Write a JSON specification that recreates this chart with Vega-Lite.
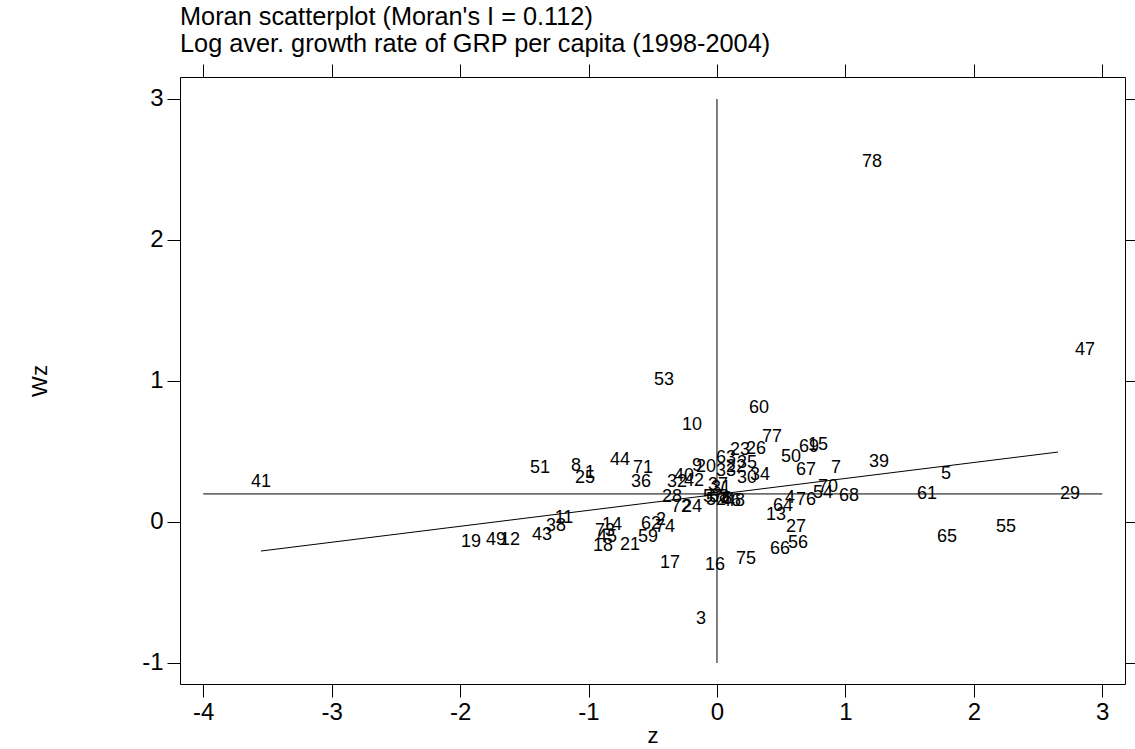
{
  "$schema": "https://vega.github.io/schema/vega-lite/v6.json",
  "width": 945,
  "height": 607,
  "autosize": "none",
  "padding": {"left": 180, "top": 77, "right": 10, "bottom": 65},
  "background": "white",
  "config": {
    "font": "Liberation Sans",
    "view": {"stroke": "black", "strokeWidth": 1},
    "axis": {
      "domain": false, "grid": false, "tickColor": "black", "tickSize": 13, "tickWidth": 1,
      "labelColor": "black", "titleColor": "black", "labelFont": "Liberation Sans", "titleFont": "Liberation Sans",
      "labelFontSize": 24, "titleFontSize": 22, "titleFontWeight": "normal"
    }
  },
  "title": {
    "text": ["Moran scatterplot (Moran's I = 0.112)", "Log aver. growth rate of GRP per capita (1998-2004)"],
    "anchor": "start", "frame": "group", "font": "Liberation Sans", "fontSize": 25.3, "fontWeight": "normal",
    "color": "black", "lineHeight": 27, "offset": 6
  },
  "datasets": {
    "pts": [
      {"lab": "78", "z": 1.207, "wz": 2.553}, {"lab": "47", "z": 2.865, "wz": 1.220}, {"lab": "41", "z": -3.551, "wz": 0.284},
      {"lab": "53", "z": -0.413, "wz": 1.007}, {"lab": "60", "z": 0.327, "wz": 0.809}, {"lab": "10", "z": -0.195, "wz": 0.688},
      {"lab": "77", "z": 0.428, "wz": 0.603}, {"lab": "15", "z": 0.786, "wz": 0.546}, {"lab": "69", "z": 0.716, "wz": 0.532},
      {"lab": "50", "z": 0.576, "wz": 0.461}, {"lab": "39", "z": 1.261, "wz": 0.426}, {"lab": "7", "z": 0.927, "wz": 0.383},
      {"lab": "67", "z": 0.693, "wz": 0.369}, {"lab": "5", "z": 1.783, "wz": 0.340}, {"lab": "61", "z": 1.635, "wz": 0.199},
      {"lab": "29", "z": 2.749, "wz": 0.199}, {"lab": "68", "z": 1.028, "wz": 0.184}, {"lab": "55", "z": 2.250, "wz": -0.035},
      {"lab": "65", "z": 1.791, "wz": -0.106}, {"lab": "13", "z": 0.459, "wz": 0.050}, {"lab": "27", "z": 0.615, "wz": -0.035},
      {"lab": "56", "z": 0.631, "wz": -0.149}, {"lab": "66", "z": 0.491, "wz": -0.191}, {"lab": "75", "z": 0.226, "wz": -0.262},
      {"lab": "16", "z": -0.016, "wz": -0.305}, {"lab": "17", "z": -0.366, "wz": -0.291}, {"lab": "3", "z": -0.125, "wz": -0.688},
      {"lab": "51", "z": -1.378, "wz": 0.383}, {"lab": "8", "z": -1.098, "wz": 0.397}, {"lab": "1", "z": -0.989, "wz": 0.348},
      {"lab": "25", "z": -1.028, "wz": 0.312}, {"lab": "44", "z": -0.755, "wz": 0.440}, {"lab": "71", "z": -0.576, "wz": 0.383},
      {"lab": "36", "z": -0.592, "wz": 0.284}, {"lab": "28", "z": -0.350, "wz": 0.177}, {"lab": "72", "z": -0.280, "wz": 0.106},
      {"lab": "24", "z": -0.195, "wz": 0.106}, {"lab": "19", "z": -1.915, "wz": -0.142}, {"lab": "49", "z": -1.721, "wz": -0.128},
      {"lab": "12", "z": -1.612, "wz": -0.128}, {"lab": "43", "z": -1.363, "wz": -0.092}, {"lab": "38", "z": -1.254, "wz": -0.028},
      {"lab": "11", "z": -1.191, "wz": 0.028}, {"lab": "14", "z": -0.818, "wz": -0.021}, {"lab": "73", "z": -0.872, "wz": -0.064},
      {"lab": "45", "z": -0.856, "wz": -0.106}, {"lab": "18", "z": -0.888, "wz": -0.170}, {"lab": "21", "z": -0.677, "wz": -0.163},
      {"lab": "59", "z": -0.537, "wz": -0.106}, {"lab": "62", "z": -0.514, "wz": -0.014}, {"lab": "2", "z": -0.436, "wz": 0.014},
      {"lab": "74", "z": -0.405, "wz": -0.035}, {"lab": "40", "z": -0.257, "wz": 0.326}, {"lab": "9", "z": -0.156, "wz": 0.397},
      {"lab": "20", "z": -0.086, "wz": 0.390}, {"lab": "32", "z": -0.311, "wz": 0.284}, {"lab": "42", "z": -0.179, "wz": 0.291},
      {"lab": "63", "z": 0.070, "wz": 0.454}, {"lab": "22", "z": 0.148, "wz": 0.390}, {"lab": "35", "z": 0.234, "wz": 0.418},
      {"lab": "23", "z": 0.179, "wz": 0.511}, {"lab": "26", "z": 0.304, "wz": 0.518}, {"lab": "33", "z": 0.070, "wz": 0.362},
      {"lab": "30", "z": 0.234, "wz": 0.312}, {"lab": "34", "z": 0.335, "wz": 0.333}, {"lab": "37", "z": 0.008, "wz": 0.262},
      {"lab": "31", "z": 0.031, "wz": 0.241}, {"lab": "57", "z": -0.031, "wz": 0.177}, {"lab": "58", "z": 0.016, "wz": 0.177},
      {"lab": "52", "z": -0.008, "wz": 0.156}, {"lab": "6", "z": 0.078, "wz": 0.163}, {"lab": "46", "z": 0.109, "wz": 0.149},
      {"lab": "48", "z": 0.140, "wz": 0.149}, {"lab": "64", "z": 0.514, "wz": 0.113}, {"lab": "4", "z": 0.568, "wz": 0.170},
      {"lab": "76", "z": 0.693, "wz": 0.156}, {"lab": "54", "z": 0.825, "wz": 0.206}, {"lab": "70", "z": 0.864, "wz": 0.248}
    ],
    "lines": [
      {"x1": -4, "x2": 3, "y1": 0.199, "y2": 0.199},
      {"x1": 0, "x2": 0, "y1": -1, "y2": 3},
      {"x1": -3.551, "x2": 2.655, "y1": -0.206, "y2": 0.496}
    ]
  },
  "layer": [
    {
      "data": {"name": "pts"},
      "mark": {"type": "text", "fontSize": 18, "font": "Liberation Sans", "color": "black", "align": "center", "baseline": "middle"},
      "encoding": {
        "x": {"field": "z", "type": "quantitative",
              "scale": {"domain": [-4.181, 3.177], "nice": false, "zero": false},
              "axis": {"orient": "bottom", "values": [-4, -3, -2, -1, 0, 1, 2, 3], "labelExpr": "'' + datum.value", "title": "z", "labelPadding": 3, "titlePadding": 1}},
        "y": {"field": "wz", "type": "quantitative",
              "scale": {"domain": [-1.149, 3.156], "nice": false, "zero": false},
              "axis": {"orient": "left", "values": [-1, 0, 1, 2, 3], "labelExpr": "'' + datum.value", "title": "Wz", "labelPadding": 4, "titlePadding": 90}},
        "text": {"field": "lab", "type": "nominal"}
      }
    },
    {
      "data": {"name": "lines"},
      "mark": {"type": "rule", "color": "black", "strokeWidth": 1},
      "encoding": {
        "x": {"field": "x1", "type": "quantitative",
              "axis": {"orient": "top", "values": [-4, -3, -2, -1, 0, 1, 2, 3], "labels": false, "title": null}},
        "x2": {"field": "x2"},
        "y": {"field": "y1", "type": "quantitative",
              "axis": {"orient": "right", "values": [-1, 0, 1, 2, 3], "labels": false, "title": null}},
        "y2": {"field": "y2"}
      }
    }
  ],
  "resolve": {"axis": {"x": "independent", "y": "independent"}}
}
